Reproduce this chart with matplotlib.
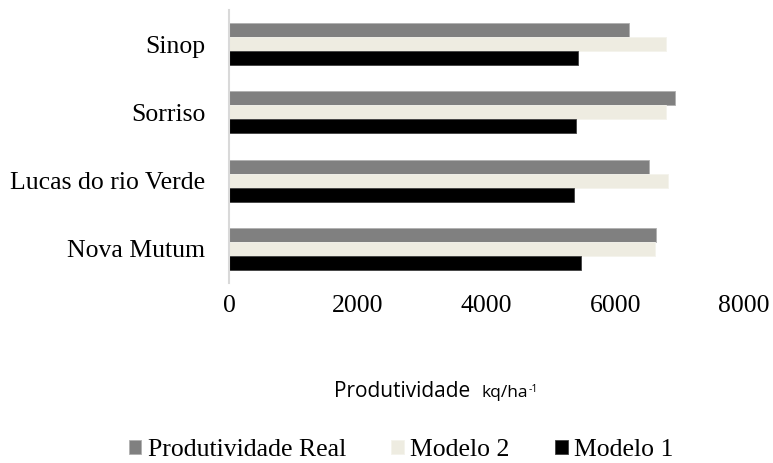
import numpy as np
import matplotlib.pyplot as plt

# data (bottom to top as drawn)
cidades = ['Nova Mutum', 'Lucas do rio Verde', 'Sorriso', 'Sinop']
prod_real = [6630, 6520, 6930, 6215]
modelo_2 = [6615, 6820, 6790, 6790]
modelo_1 = [5465, 5365, 5395, 5420]

serif = 'Liberation Serif'
sans = 'Open Sans'

W, H = 773, 463
fig = plt.figure(figsize=(W / 100, H / 100), dpi=100)
ax = fig.add_axes([229 / W, 1 - 283 / H, (744 - 229) / W, 273 / H])

y = np.arange(len(cidades))
h = 0.206
ax.barh(y + h, prod_real, h, color='#808080', edgecolor='#b0b0b0', linewidth=0.6,
        label='Produtividade Real')
ax.barh(y, modelo_2, h, color='#eeece1', edgecolor='#f4f3ec', linewidth=0.6,
        label='Modelo 2')
ax.barh(y - h, modelo_1, h, color='black', edgecolor='#404040', linewidth=0.6,
        label='Modelo 1')

ax.set_xlim(0, 8000)
ax.set_ylim(-0.5, 3.5)
ax.set_xticks([0, 2000, 4000, 6000, 8000])
ax.set_yticks(y)
ax.set_yticklabels(cidades)
for lab in ax.get_xticklabels() + ax.get_yticklabels():
    lab.set_fontfamily(serif)
    lab.set_fontsize(18.5)
ax.tick_params(axis='x', length=0, pad=8.5)
ax.tick_params(axis='y', length=0, pad=17)

for s in ['top', 'right', 'bottom']:
    ax.spines[s].set_visible(False)
ax.spines['left'].set_color('#d9d9d9')
ax.spines['left'].set_linewidth(1.5)

# axis title: "Produtividade kq/ha-1" with smaller unit and superscript
base = 1 - 397 / H
t1 = fig.text(334 / W, base, 'Produtividade', fontfamily=sans, fontsize=15,
              ha='left', va='baseline')
fig.canvas.draw()
r = fig.canvas.get_renderer()
x1 = t1.get_window_extent(r).x1
t2 = fig.text((x1 + 11) / W, base, 'kq/ha', fontfamily=sans, fontsize=12.5,
              ha='left', va='baseline')
x2 = t2.get_window_extent(r).x1
fig.text((x2 + 1) / W, 1 - 392 / H, '-1', fontfamily=sans, fontsize=7.5,
         ha='left', va='baseline')

fig.legend(loc='center', bbox_to_anchor=(401 / W, 1 - 450 / H), ncol=3,
           frameon=False, prop={'family': serif, 'size': 18.5},
           handlelength=0.5, handleheight=0.5, handletextpad=0.25,
           columnspacing=1.75, borderpad=0, borderaxespad=0)

fig.savefig('out.png', dpi=100)
